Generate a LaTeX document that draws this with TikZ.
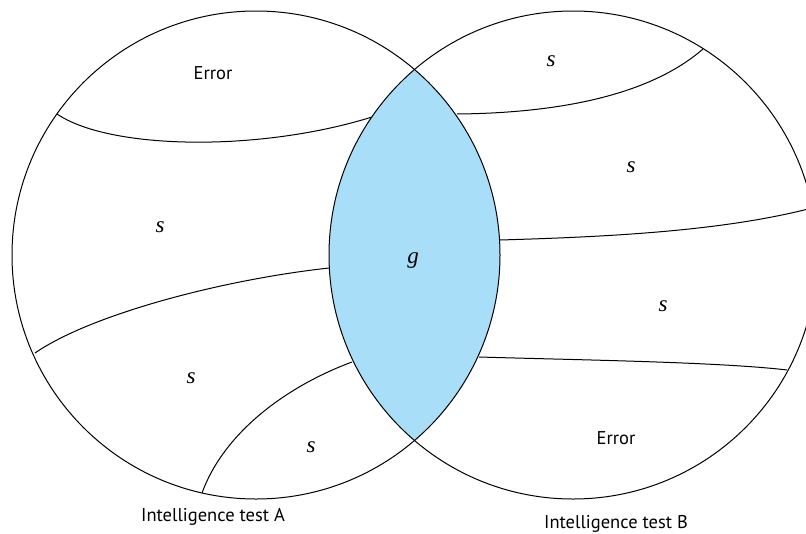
\documentclass[tikz,border=0pt]{standalone}
\usepackage{fontspec}
\setmainfont{Liberation Serif}
\newfontfamily\labelfont{PT Sans}
\definecolor{lensblue}{RGB}{168,222,248}
\begin{document}
\begin{tikzpicture}[x=1pt,y=-1pt,
  outline/.style={draw=black,line width=1pt},
  divider/.style={draw=black,line width=1pt},
  wordlabel/.style={inner sep=0pt,font=\labelfont\fontsize{18.5}{20}\selectfont},
  factor/.style={inner sep=0pt,font=\fontsize{23}{26}\selectfont\itshape}]
\useasboundingbox (0,0) rectangle (806,533);
\coordinate (L) at (256,255);
\coordinate (R) at (573,255);
% lens fill
\begin{scope}
  \clip (L) circle[radius=244];
  \fill[lensblue] (R) circle[radius=244];
\end{scope}
% circles
\draw[outline] (L) circle[radius=244];
\draw[outline] (R) circle[radius=244];
% divider end points
\coordinate (a1) at (57,114);  \coordinate (a2) at (372,117);
\coordinate (b1) at (35,353);  \coordinate (b2) at (329,268);
\coordinate (c1) at (202,493); \coordinate (c2) at (352,362);
\coordinate (d1) at (457,114); \coordinate (d2) at (703,49);
\coordinate (e1) at (500,240); \coordinate (e2) at (812,208);
\coordinate (f1) at (479,357); \coordinate (f2) at (787,370);
% dividers
\draw[divider] (a1) .. controls (110,150) and (260,152) .. (a2);
\draw[divider] (b1) .. controls (90,315) and (220,280) .. (b2);
\draw[divider] (c1) .. controls (225,430) and (290,385) .. (c2);
\draw[divider] (d1) .. controls (560,113) and (650,95) .. (d2);
\draw[divider] (e1) .. controls (600,237) and (720,232) .. (e2);
\draw[divider] (f1) .. controls (580,360) and (720,362) .. (f2);
% labels
\node[wordlabel] (errA) at (213,73) {Error};
\node[factor] (sA1) at (160,227) {s};
\node[factor] (g) at (413,261) {g};
\node[factor] (sA2) at (191,378) {s};
\node[factor] (sA3) at (311,447) {s};
\node[factor] (sB1) at (551,61) {s};
\node[factor] (sB2) at (631,167) {s};
\node[factor] (sB3) at (663,306) {s};
\node[wordlabel] (errB) at (616,438) {Error};
\node[wordlabel] (testA) at (213,517) {Intelligence test A};
\node[wordlabel] (testB) at (616,524) {Intelligence test B};
\end{tikzpicture}
\end{document}
